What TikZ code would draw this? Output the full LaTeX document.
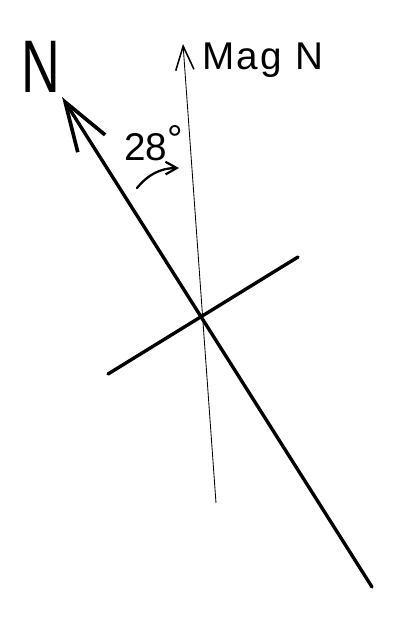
\documentclass[tikz,border=0pt]{standalone}
\usepackage{fontspec}
\setmainfont{Liberation Sans}
\usetikzlibrary{arrows.meta}
\begin{document}
\begin{tikzpicture}[x=0.025cm, y=-0.025cm,
        every node/.style={inner sep=0pt, anchor=base west},
        bold line/.style={line width=2.4pt, line cap=round},
        thin line/.style={line width=0.6pt},
        north tip/.style={-{Straight Barb[length=35pt, width=23pt, line width=2.6pt]}},
        mag tip/.style={-{Straight Barb[length=17pt, width=13pt, line width=1.1pt]}}]
        \useasboundingbox (0,0) rectangle (398,640);
        % Define the nodes
        \coordinate (T) at (62,97);
        \coordinate (B) at (372,587);
        \coordinate (M) at (183,44);
        \coordinate (S) at (216,503);
        \coordinate (L) at (108,374);
        \coordinate (R) at (298,257);
        \coordinate (P) at (137,188);
        \coordinate (Q) at (179,168);
        \node[font=\fontsize{53}{53}\selectfont, xscale=0.72] (N) at (21,92) {N};
        \node[font=\fontsize{27.5}{28}\selectfont\addfontfeatures{LetterSpace=6}] (magN) at (202,69) {Mag N};
        \node[font=\fontsize{27.5}{28}\selectfont] (ang) at (124,160) {28\raisebox{5pt}{°}};

        \draw[thin line, mag tip] (S) -- (M);
        \draw[bold line, north tip] (B) -- (T);
        \draw[bold line] (L) -- (R);
        \draw[line width=1.6pt, line cap=round, -{Straight Barb[length=8pt, width=9pt, line width=1.6pt]}] (P) to[bend left=25] (Q);

    \end{tikzpicture}
\end{document}
